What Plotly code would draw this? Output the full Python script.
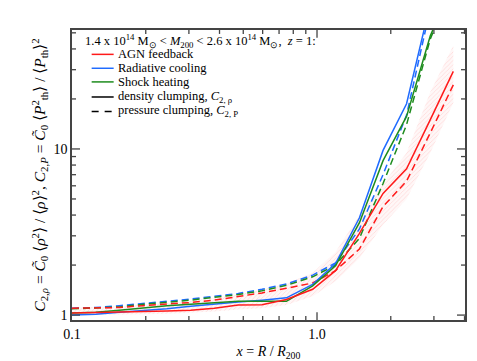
import math
import plotly.graph_objects as go

# ---- data ----
x_r = [0.100, 0.125, 0.156, 0.195, 0.244, 0.305, 0.381, 0.477, 0.596, 0.75, 0.96, 1.19, 1.49, 1.86, 2.32, 2.9, 3.6]

agn_density = [1.03, 1.035, 1.04, 1.05, 1.06, 1.07, 1.10, 1.15, 1.155, 1.24, 1.43, 1.85, 3.1, 5.4, 7.6, 15.0, 29.3]
agn_pressure = [1.10, 1.10, 1.11, 1.14, 1.16, 1.19, 1.23, 1.29, 1.36, 1.45, 1.56, 1.85, 2.5, 4.5, 6.4, 12.5, 24.3]
cool_density = [1.00, 1.01, 1.04, 1.06, 1.09, 1.13, 1.17, 1.20, 1.23, 1.27, 1.53, 2.04, 3.85, 9.8, 18.7, 75, 150]
cool_pressure = [1.10, 1.11, 1.14, 1.18, 1.21, 1.25, 1.30, 1.35, 1.43, 1.54, 1.74, 2.06, 3.3, 7.0, 16.0, 70, 150]
shock_density = [1.03, 1.04, 1.07, 1.11, 1.14, 1.16, 1.19, 1.21, 1.21, 1.21, 1.50, 1.98, 3.6, 8.5, 15.7, 48, 100]
shock_pressure = [1.09, 1.10, 1.12, 1.16, 1.19, 1.23, 1.28, 1.33, 1.40, 1.51, 1.70, 2.0, 2.9, 6.2, 14.0, 46, 100]

agn_band_low = [1.0, 1.0, 1.0, 1.01, 1.02, 1.03, 1.05, 1.08, 1.10, 1.15, 1.30, 1.6, 2.2, 3.5, 5.0, 9.5, 19]
agn_band_high = [1.12, 1.12, 1.13, 1.15, 1.18, 1.22, 1.27, 1.33, 1.42, 1.55, 1.80, 2.4, 4.0, 6.2, 9.5, 22, 42]

# tick positions / labels
x_major = [0.1, 1.0]
x_major_text = ["0.1", "1.0"]
x_minor = [0.2, 0.3, 0.4, 0.5, 0.6, 0.7, 0.8, 0.9, 2, 3, 4]
y_major = [1, 10]
y_major_text = ["1", "10"]
y_minor = [2, 3, 4, 5, 6, 7, 8, 9, 20, 30, 40, 50]

RED = "#ff1a1a"
BLUE = "#1f6bff"
GREEN = "#1e8c1e"
FONT = "Liberation Serif"
AXIS = "#444444"
XR = [-1, 0.604]
YR = [-0.0296, 1.716]
W, H = 477, 361
ML, MR, MT, MB = 64, 20, 22, 44
PW, PH = W - ML - MR, H - MT - MB

fig = go.Figure()

# shaded scatter band for AGN feedback
fig.add_trace(go.Scatter(
    x=x_r + x_r[::-1], y=agn_band_low + agn_band_high[::-1],
    fill="toself", mode="lines", line=dict(width=0),
    fillcolor="rgba(255,0,0,0.03)",
    fillpattern=dict(shape="/", fgcolor="rgba(255,110,110,0.45)", size=3, solidity=0.25),
    showlegend=False, hoverinfo="skip"))

series = [
    (cool_pressure, BLUE, "dash"),
    (shock_pressure, GREEN, "dash"),
    (agn_pressure, RED, "dash"),
    (cool_density, BLUE, "solid"),
    (shock_density, GREEN, "solid"),
    (agn_density, RED, "solid"),
]
for ys, col, dash in series:
    fig.add_trace(go.Scatter(
        x=x_r, y=ys, mode="lines",
        line=dict(color=col, width=1.5, dash="7px,4px" if dash == "dash" else "solid"),
        showlegend=False))

# ---- legend block (drawn as annotations + sample lines) ----
header = ("1.4 x 10<sup>14</sup> M<sub>⊙</sub> &lt; <i>M</i><sub>200</sub> &lt; "
          "2.6 x 10<sup>14</sup> M<sub>⊙</sub>,  <i>z</i> = 1:")
legend_labels = ["AGN feedback", "Radiative cooling", "Shock heating",
                 "density clumping, <i>C</i><sub>2, ρ</sub>",
                 "pressure clumping, <i>C</i><sub>2, P</sub>"]
legend_colors = [RED, BLUE, GREEN, "black", "black"]
legend_dash = ["solid", "solid", "solid", "solid", "7px,6px"]
row_y = [0.916, 0.868, 0.821, 0.769, 0.719]

fig.add_annotation(x=0.028, y=0.962, xref="paper", yref="paper", text=header,
                   showarrow=False, xanchor="left", yanchor="middle",
                   font=dict(family=FONT, size=12.5, color="black"))
for lab, col, dsh, yy in zip(legend_labels, legend_colors, legend_dash, row_y):
    fig.add_shape(type="line", xref="paper", yref="paper", x0=0.050, x1=0.106, y0=yy, y1=yy,
                  line=dict(color=col, width=1.5, dash=dsh))
    fig.add_annotation(x=0.112, y=yy, xref="paper", yref="paper", text=lab,
                       showarrow=False, xanchor="left", yanchor="middle",
                       font=dict(family=FONT, size=12.5, color="black"))

# ---- tick marks on all four sides (inside) ----
def xfrac(v):
    return (math.log10(v) - XR[0]) / (XR[1] - XR[0])

def yfrac(v):
    return (math.log10(v) - YR[0]) / (YR[1] - YR[0])

tick_line = dict(color=AXIS, width=1.3)
for vals, L in ((x_major, 8), (x_minor, 4)):
    for v in vals:
        f = xfrac(v)
        if 0 < f < 1:
            for y0, y1 in ((0, L / PH), (1 - L / PH, 1)):
                fig.add_shape(type="line", xref="x domain", yref="y domain",
                              x0=f, x1=f, y0=y0, y1=y1, line=tick_line)
for vals, L in ((y_major, 8), (y_minor, 4)):
    for v in vals:
        f = yfrac(v)
        if 0 < f < 1:
            for x0, x1 in ((0, L / PW), (1 - L / PW, 1)):
                fig.add_shape(type="line", xref="x domain", yref="y domain",
                              x0=x0, x1=x1, y0=f, y1=f, line=tick_line)

base = dict(type="log", showgrid=False, zeroline=False,
            showline=True, linecolor=AXIS, linewidth=1.5, mirror=True,
            ticks="", tickmode="array")

fig.update_layout(
    xaxis=dict(range=XR, tickvals=x_major, ticktext=x_major_text,
               tickfont=dict(family=FONT, size=14, color="black"),
               title=dict(text="<i>x</i> = <i>R</i> / <i>R</i><sub>200</sub>",
                          font=dict(family=FONT, size=14, color="black"), standoff=6),
               **base),
    yaxis=dict(range=YR, tickvals=y_major, ticktext=y_major_text,
               tickfont=dict(family=FONT, size=14, color="black"),
               title=dict(text=("<i>C</i><sub>2,<i>ρ</i></sub> = <i>C̃</i><sub>0</sub> ⟨<i>ρ</i><sup>2</sup>⟩ / ⟨<i>ρ</i>⟩<sup>2</sup>, "
                                "<i>C</i><sub>2,<i>P</i></sub> = <i>C̃</i><sub>0</sub> ⟨<i>P</i><sup>2</sup><sub>th</sub>⟩ / ⟨<i>P</i><sub>th</sub>⟩<sup>2</sup>"),
                          font=dict(family=FONT, size=15.5, color="black"), standoff=4),
               **base),
    width=W, height=H,
    margin=dict(l=ML, r=MR, t=MT, b=MB),
    paper_bgcolor="white", plot_bgcolor="white",
    showlegend=False,
)

fig.write_html("out.html")
